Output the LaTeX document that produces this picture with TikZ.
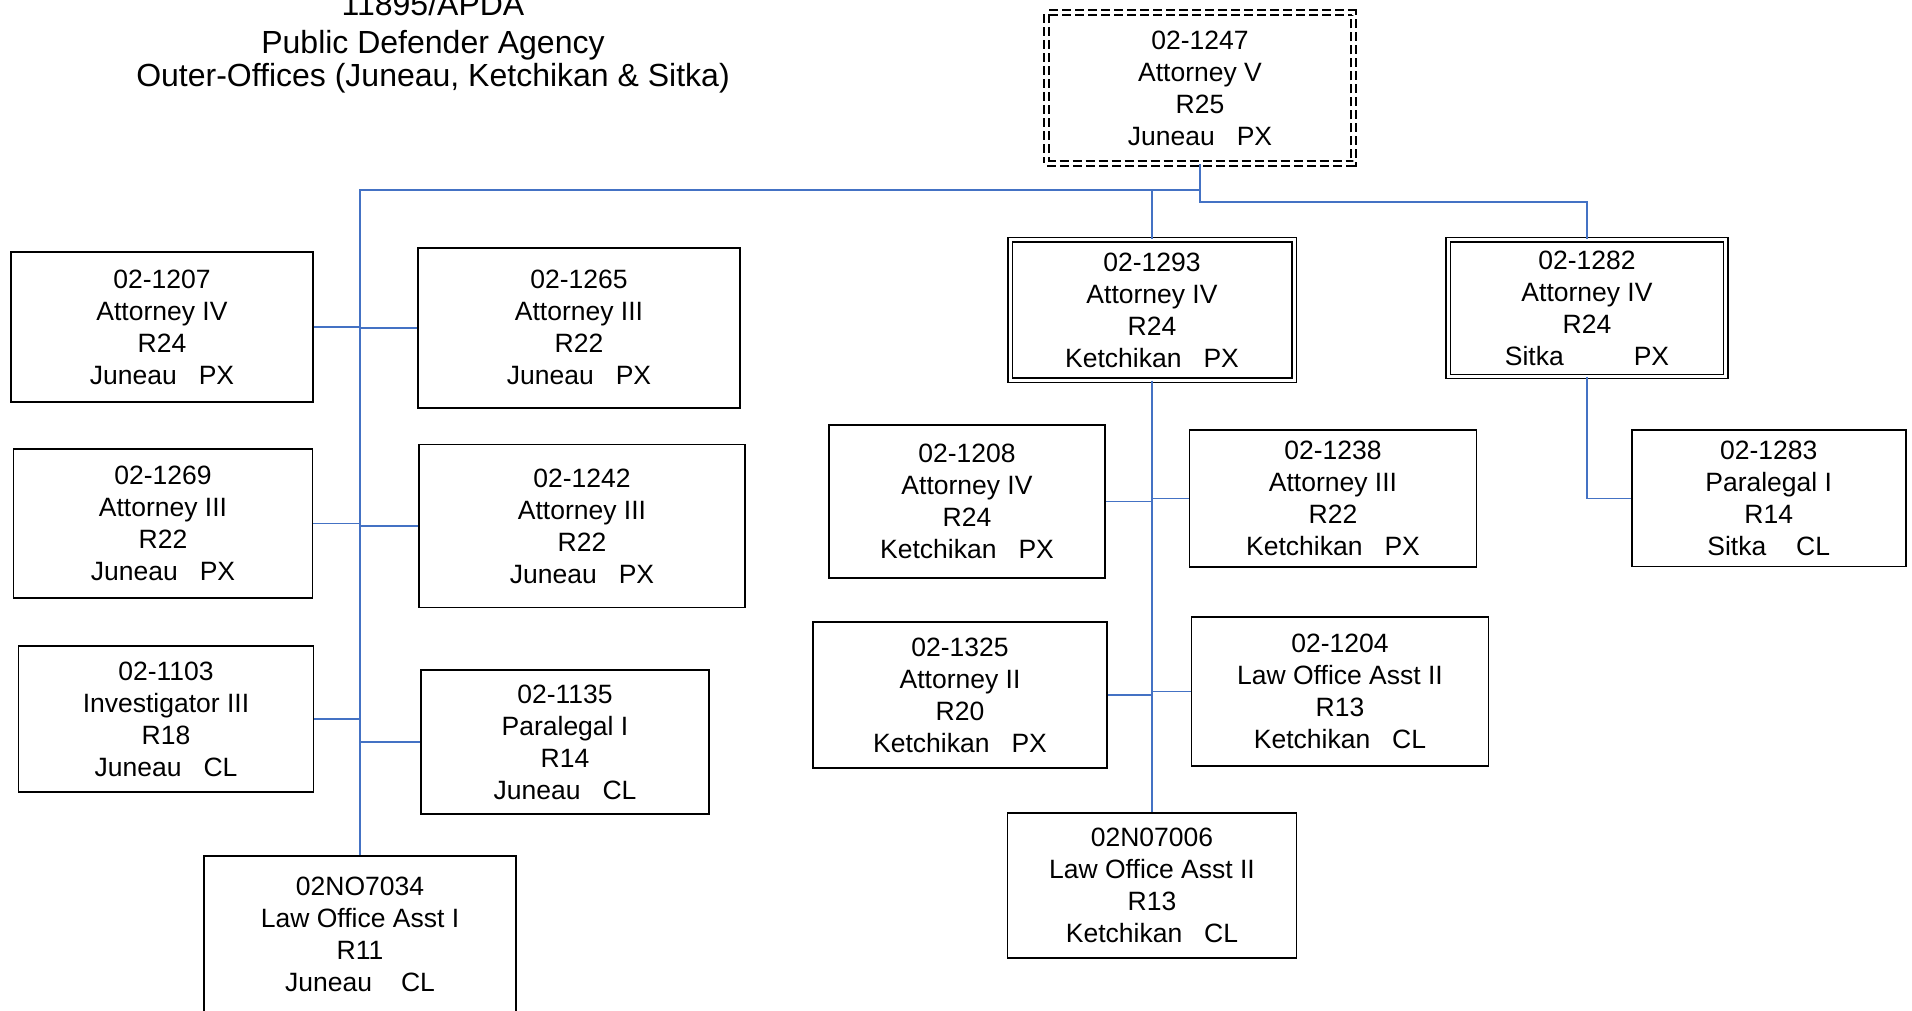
\documentclass[tikz,border=0pt]{standalone}
\usepackage{fontspec}
\setmainfont{Liberation Sans}
\definecolor{linkblue}{HTML}{4472C4}
\newcommand{\loc}[3][22pt]{#2\hspace{#1}#3}

\begin{document}
\begin{tikzpicture}[x=1pt,y=-1pt,
	posbox/.style={draw=black, line width=1.6pt, inner sep=0pt, align=center, font=\fontsize{26.5}{32}\selectfont},
	leadbox/.style={posbox, double, double distance=3pt, line width=1.3pt},
	chiefbox/.style={posbox, dash pattern=on 9pt off 4pt, double, double distance=3.5pt, line width=1.3pt},
	link/.style={draw=linkblue, line width=1.5pt}]
	\useasboundingbox (0,0) rectangle (1912,1011);
	\node[inner sep=0pt, anchor=north, align=center, font=\fontsize{32}{33}\selectfont] (title) at (433,-8)
		{11895/APDA\\[5pt]Public Defender Agency\\Outer-Offices (Juneau, Ketchikan \& Sitka)};
	\node[chiefbox, minimum width=307, minimum height=151] (p1247) at (1200,88) {02-1247\\Attorney V\\R25\\\loc{Juneau}{PX}};
	\node[posbox, minimum width=302, minimum height=150] (p1207) at (162,327) {02-1207\\Attorney IV\\R24\\\loc{Juneau}{PX}};
	\node[posbox, minimum width=322, minimum height=160] (p1265) at (579,327.8) {02-1265\\Attorney III\\R22\\\loc{Juneau}{PX}};
	\node[posbox, minimum width=299, minimum height=149] (p1269) at (163,523.5) {02-1269\\Attorney III\\R22\\\loc{Juneau}{PX}};
	\node[posbox, minimum width=326, minimum height=163] (p1242) at (582,526) {02-1242\\Attorney III\\R22\\\loc{Juneau}{PX}};
	\node[posbox, minimum width=295, minimum height=146] (p1103) at (166,719) {02-1103\\Investigator III\\R18\\\loc{Juneau}{CL}};
	\node[posbox, minimum width=288, minimum height=144] (p1135) at (565,742) {02-1135\\Paralegal I\\R14\\\loc{Juneau}{CL}};
	\node[posbox, minimum width=312, minimum height=156] (p7034) at (360,934) {02NO7034\\Law Office Asst I\\R11\\\loc[29pt]{Juneau}{CL}};
	\node[leadbox, minimum width=284, minimum height=140] (p1293) at (1152,310) {02-1293\\Attorney IV\\R24\\\loc{Ketchikan}{PX}};
	\node[leadbox, minimum width=277.5, minimum height=136.5] (p1282) at (1587,308.2) {02-1282\\Attorney IV\\R24\\\loc[70pt]{Sitka}{PX}};
	\node[posbox, minimum width=276, minimum height=153] (p1208) at (967,501.5) {02-1208\\Attorney IV\\R24\\\loc{Ketchikan}{PX}};
	\node[posbox, minimum width=287, minimum height=137] (p1238) at (1333,498.3) {02-1238\\Attorney III\\R22\\\loc{Ketchikan}{PX}};
	\node[posbox, minimum width=294, minimum height=146.5] (p1325) at (960,695) {02-1325\\Attorney II\\R20\\\loc{Ketchikan}{PX}};
	\node[posbox, minimum width=297, minimum height=148.5] (p1204) at (1340,691.5) {02-1204\\Law Office Asst II\\R13\\\loc{Ketchikan}{CL}};
	\node[posbox, minimum width=289, minimum height=144.5] (p7006) at (1152,885.5) {02N07006\\Law Office Asst II\\R13\\\loc{Ketchikan}{CL}};
	\node[posbox, minimum width=274, minimum height=136.7] (p1283) at (1768.7,498.3) {02-1283\\Paralegal I\\R14\\\loc[30pt]{Sitka}{CL}};

	\coordinate (jtop) at (360,190);
	\coordinate (ktop) at (1152,190);
	\coordinate (ctop) at (1200,190);
	\coordinate (sjog) at (1200,202);
	\draw[link] (p1247.south) -- (sjog) -| (p1282.north);
	\draw[link] (ctop) -- (jtop) -- (p7034.north);
	\draw[link] (ktop) -- (p1293.north);
	\draw[link] (p1293.south) -- (p7006.north);
	\draw[link] (p1282.south) |- (p1283.west);
	\path[link]
	(p1207.east) edge (p1207.east -| jtop)
	(p1265.west) edge (p1265.west -| jtop)
	(p1269.east) edge (p1269.east -| jtop)
	(p1242.west) edge (p1242.west -| jtop)
	(p1103.east) edge (p1103.east -| jtop)
	(p1135.west) edge (p1135.west -| jtop)
	(p1208.east) edge (p1208.east -| ktop)
	(p1238.west) edge (p1238.west -| ktop)
	(p1325.east) edge (p1325.east -| ktop)
	(p1204.west) edge (p1204.west -| ktop);
\end{tikzpicture}
\end{document}
